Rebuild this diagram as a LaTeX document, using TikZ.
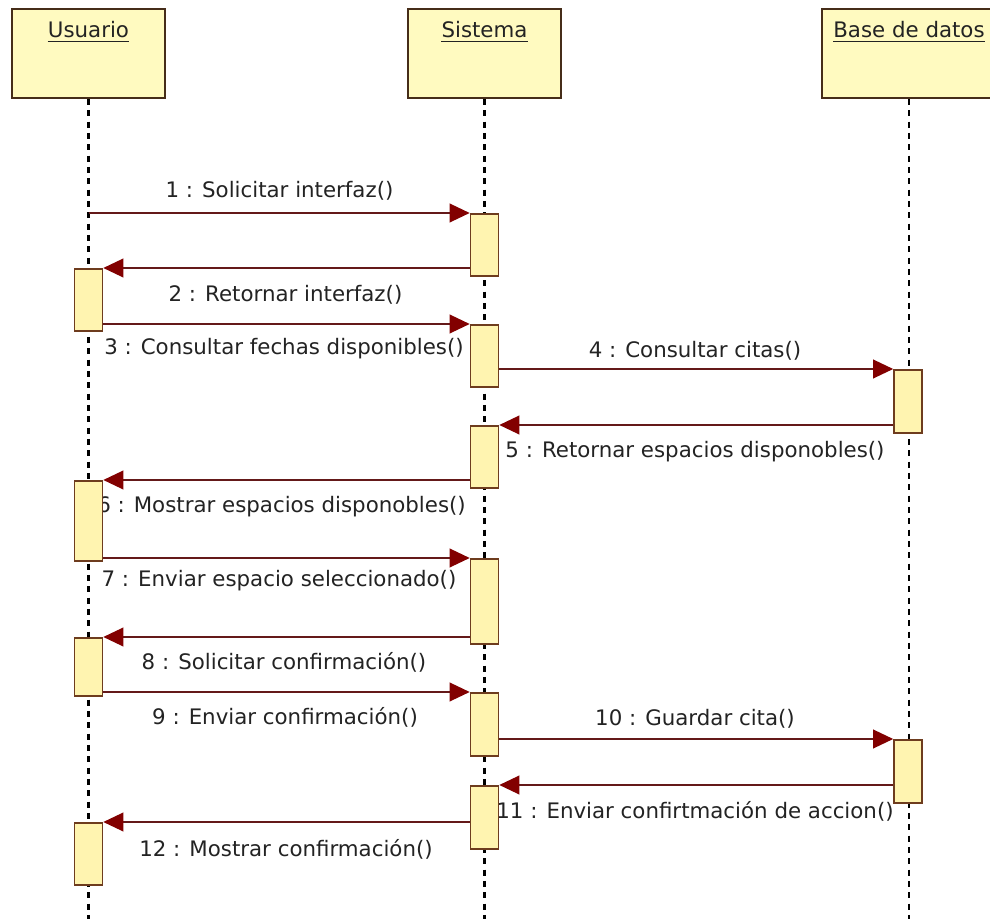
\documentclass[tikz,border=0pt]{standalone}
\usepackage{fontspec}
\setmainfont{DejaVu Sans}
\usetikzlibrary{arrows.meta,calc}
\definecolor{headfill}{RGB}{255,250,192}
\definecolor{headdraw}{RGB}{70,45,25}
\definecolor{actfill}{RGB}{255,244,176}
\definecolor{actdraw}{RGB}{110,60,30}
\definecolor{msgcol}{RGB}{100,25,25}
\definecolor{tipcol}{RGB}{130,0,0}
\definecolor{txtcol}{RGB}{35,35,35}
\pgfdeclarelayer{bg}
\pgfsetlayers{bg,main}
\begin{document}
\begin{tikzpicture}[x=0.75pt,y=-0.75pt,
  head/.style={draw=headdraw, fill=headfill, line width=1.5pt, minimum width=114.75pt, minimum height=66.75pt, inner sep=0pt},
  actbox/.style={draw=actdraw, fill=actfill, line width=1.2pt, minimum width=21pt, inner sep=0pt, anchor=north},
  lifeline/.style={line width=1.7pt, dash pattern=on 4.5pt off 4pt},
  msg/.style={draw=msgcol, line width=1.2pt, -{Triangle[length=15pt,width=14pt,color=tipcol]}},
  lbl/.style={font=\fontsize{16pt}{19pt}\selectfont, text=txtcol, inner sep=0pt, anchor=base},
  ul/.style={draw=txtcol, line width=1pt}
]
\useasboundingbox (0,0) rectangle (990,919);
\clip (0,0) rectangle (990,919);

% heads
\node[head] (uh) at (88.5,53.5) {};
\node[head] (sh) at (484.5,53.5) {};
\node[head, minimum width=130.5pt] (dh) at (909,53.5) {};
\node[lbl] (uhl) at ($(uh.north)+(0,30)$) {Usuario};
\node[lbl] (shl) at ($(sh.north)+(0,30)$) {Sistema};
\node[lbl] (dhl) at ($(dh.north)+(0,30)$) {Base de datos};
\draw[ul] ([yshift=-2.8pt]uhl.base west) -- ([yshift=-2.8pt]uhl.base east);
\draw[ul] ([yshift=-2.8pt]shl.base west) -- ([yshift=-2.8pt]shl.base east);
\draw[ul] ([yshift=-2.8pt]dhl.base west) -- ([yshift=-2.8pt]dhl.base east);
\coordinate (bot) at (0,925);

% activations
\node[actbox, minimum height=46.5pt] (sa1) at (484.5,213) {};
\node[actbox, minimum height=46.5pt] (ua1) at (88.5,268) {};
\node[actbox, minimum height=46.5pt] (sa2) at (484.5,324) {};
\node[actbox, minimum height=47.25pt] (da1) at (908,369) {};
\node[actbox, minimum height=46.5pt] (sa3) at (484.5,425) {};
\node[actbox, minimum height=60pt] (ua2) at (88.5,480) {};
\node[actbox, minimum height=63.75pt] (sa4) at (484.5,558) {};
\node[actbox, minimum height=43.5pt] (ua3) at (88.5,637) {};
\node[actbox, minimum height=47.25pt] (sa5) at (484.5,692) {};
\node[actbox, minimum height=47.25pt] (da2) at (908,739) {};
\node[actbox, minimum height=47.25pt] (sa6) at (484.5,785) {};
\node[actbox, minimum height=46.5pt] (ua4) at (88.5,822) {};

\begin{pgfonlayer}{bg}
\fill[white] (0,0) rectangle (990,919);
% lifelines
\draw[lifeline] (uh.south) -- (uh.south |- bot);
\draw[lifeline] (sh.south) -- (sh.south |- bot);
\draw[lifeline] (dh.south) -- (dh.south |- bot);
% messages
\draw[msg] (uh.south |- sa1.north) -- (sa1.north west);
\draw[msg] (sa1.west |- ua1.north) -- (ua1.north east);
\draw[msg] (ua1.east |- sa2.north) -- (sa2.north west);
\draw[msg] (sa2.east |- da1.north) -- (da1.north west);
\draw[msg] (da1.west |- sa3.north) -- (sa3.north east);
\draw[msg] (sa3.west |- ua2.north) -- (ua2.north east);
\draw[msg] (ua2.east |- sa4.north) -- (sa4.north west);
\draw[msg] (sa4.west |- ua3.north) -- (ua3.north east);
\draw[msg] (ua3.east |- sa5.north) -- (sa5.north west);
\draw[msg] (sa5.east |- da2.north) -- (da2.north west);
\draw[msg] (da2.west |- sa6.north) -- (sa6.north east);
\draw[msg] (sa6.west |- ua4.north) -- (ua4.north east);
% labels
\node[lbl] (l1) at (279.5,198) {1 : Solicitar interfaz()};
\node[lbl] (l2) at (285.5,302) {2 : Retornar interfaz()};
\node[lbl] (l3) at (284,355) {3 : Consultar fechas disponibles()};
\node[lbl] (l4) at (695,358) {4 : Consultar citas()};
\node[lbl] (l5) at (695,458) {5 : Retornar espacios disponobles()};
\node[lbl] (l6) at (281.5,513) {6 : Mostrar espacios disponobles()};
\node[lbl] (l7) at (279,587) {7 : Enviar espacio seleccionado()};
\node[lbl] (l8) at (284,670) {8 : Solicitar confirmación()};
\node[lbl] (l9) at (285,725) {9 : Enviar confirmación()};
\node[lbl] (l10) at (695,726) {10 : Guardar cita()};
\node[lbl] (l11) at (695,819) {11 : Enviar confirtmación de accion()};
\node[lbl] (l12) at (286,856) {12 : Mostrar confirmación()};
\end{pgfonlayer}
\end{tikzpicture}
\end{document}
